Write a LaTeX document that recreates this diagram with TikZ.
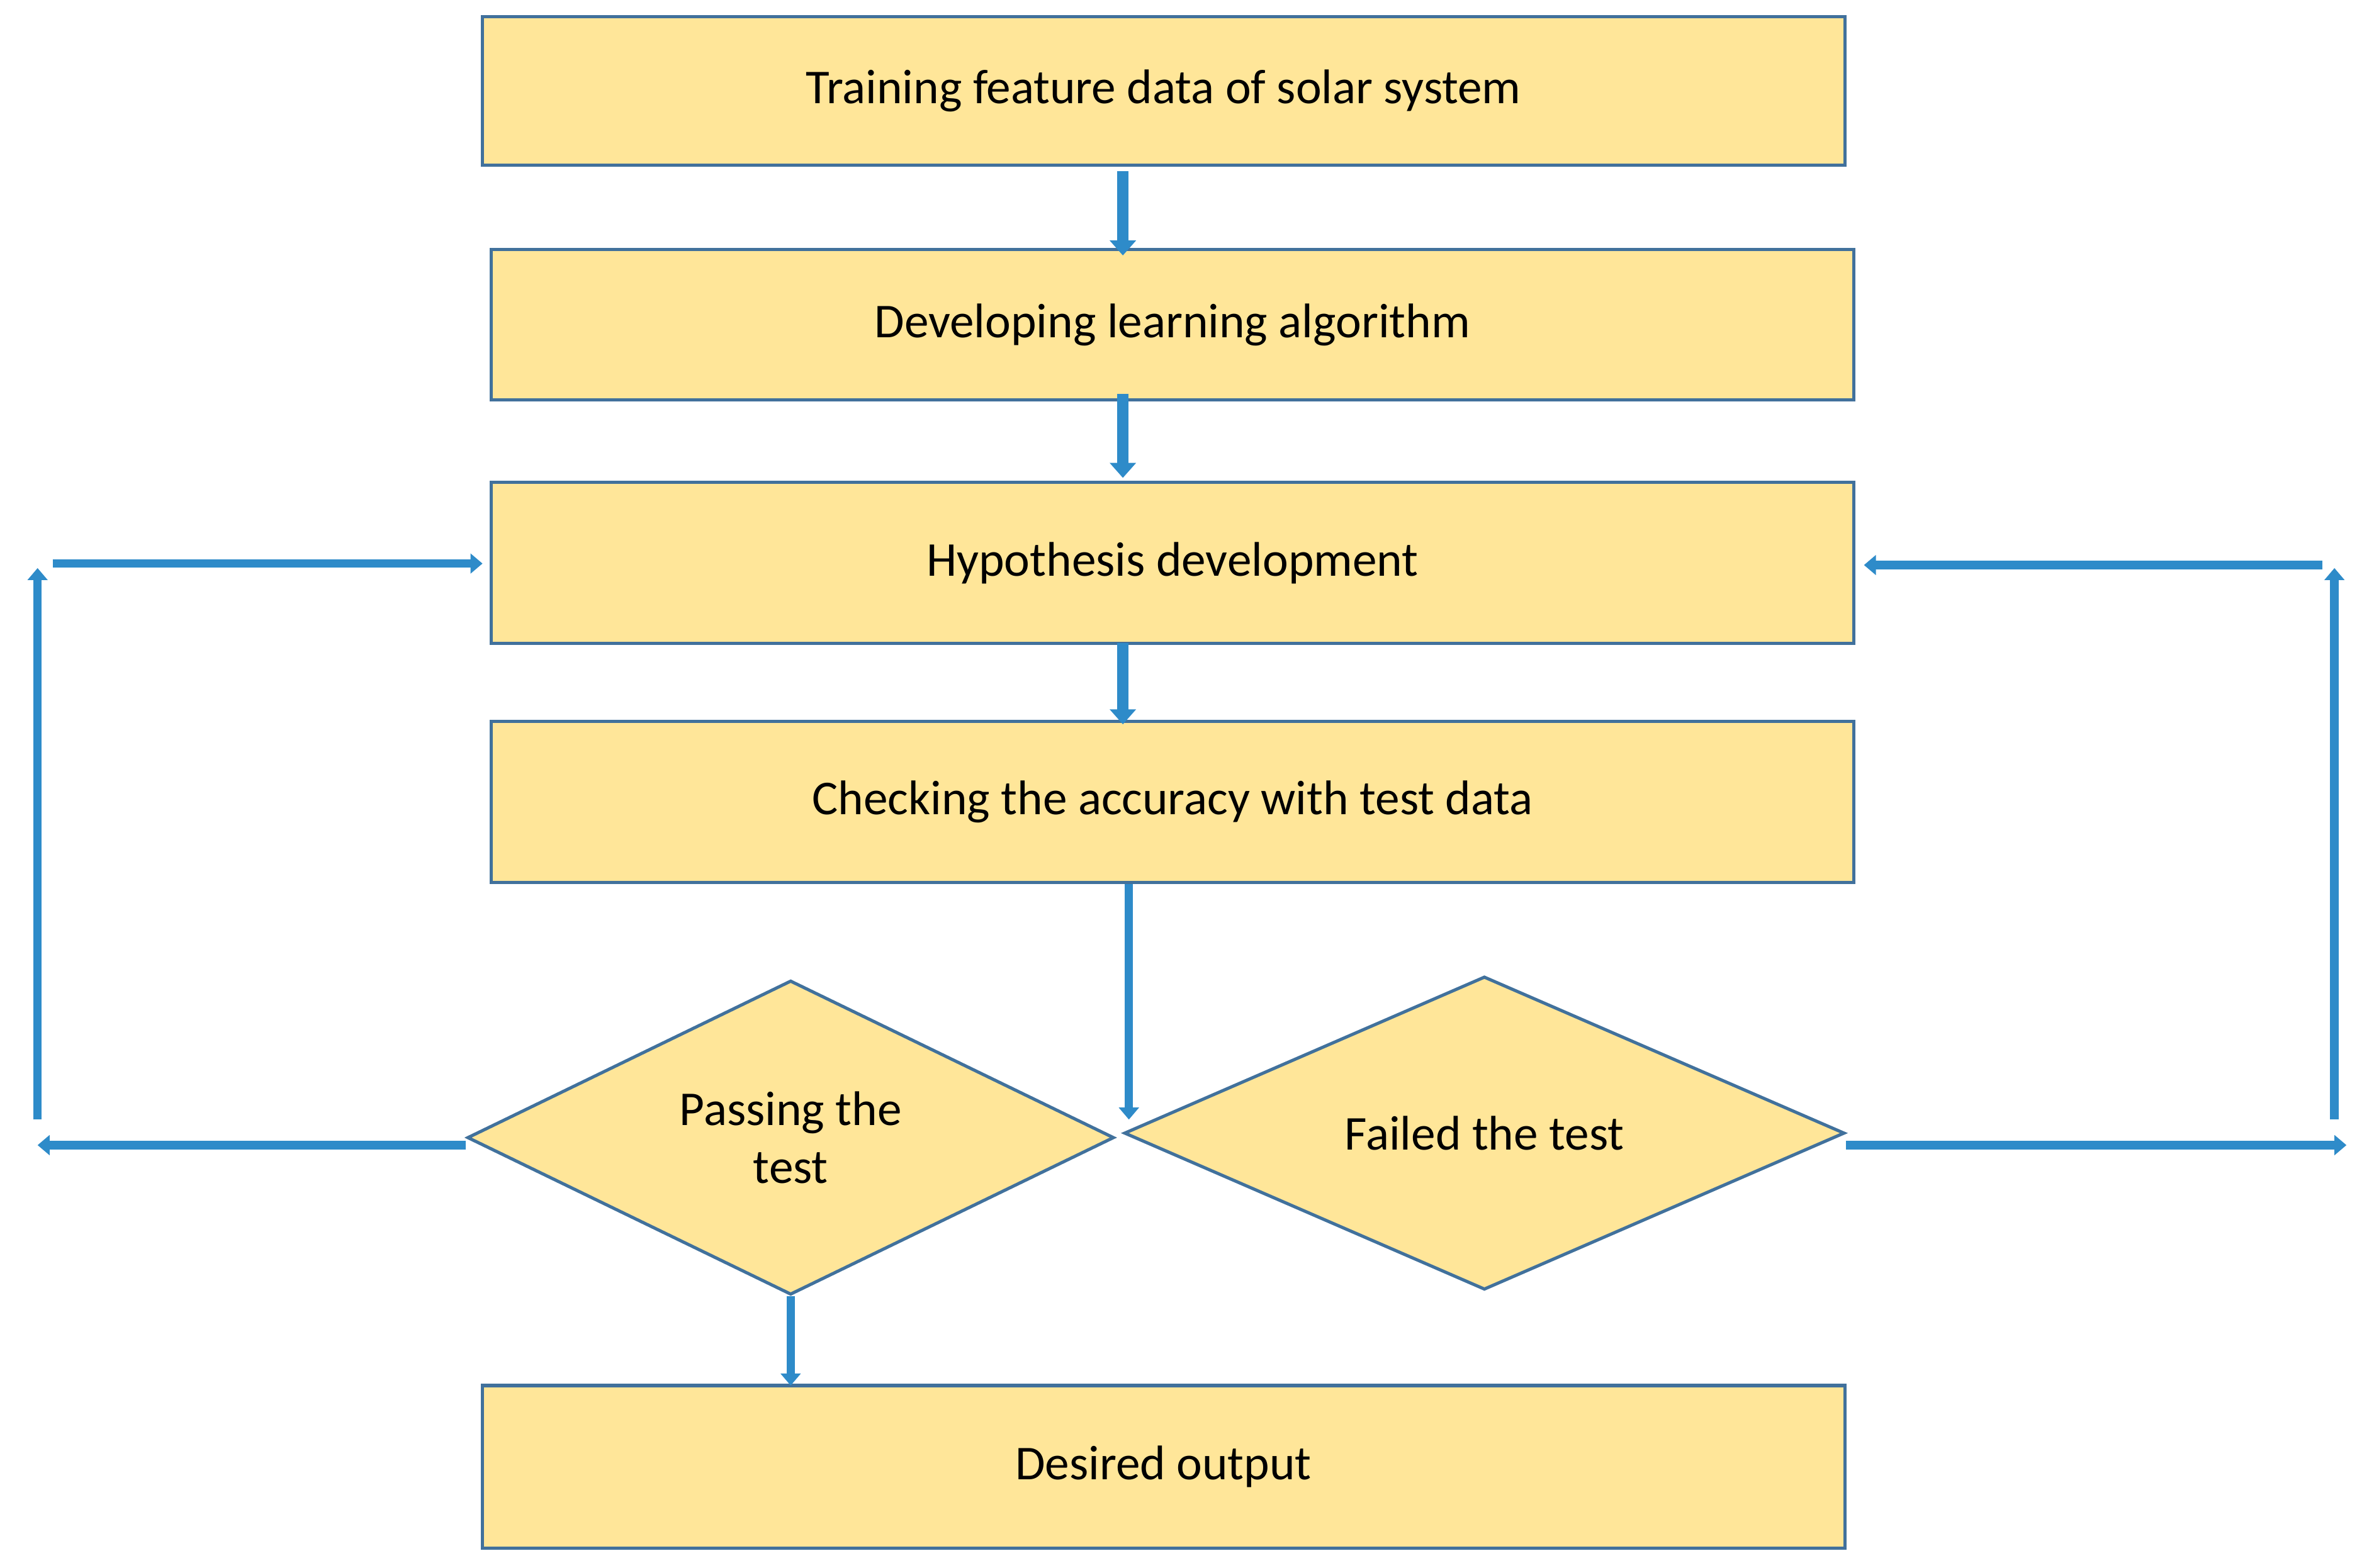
\documentclass[tikz,border=0pt]{standalone}
\usepackage{fontspec}
\setmainfont{Carlito}
\usetikzlibrary{arrows.meta,shapes.geometric}
\definecolor{boxfill}{HTML}{FFE699}
\definecolor{boxline}{HTML}{41719C}
\definecolor{arr}{HTML}{2E8BC9}
\begin{document}
\begin{tikzpicture}[x=0.01cm,y=-0.01cm,
  box/.style={draw=boxline,fill=boxfill,line width=0.6pt,minimum width=9.06cm,inner sep=0pt,font=\fontsize{9.2}{11}\selectfont},
  dia/.style={draw=boxline,fill=boxfill,line width=0.6pt,diamond,inner sep=0pt,font=\fontsize{9.2}{11}\selectfont,align=center},
  fat/.style={draw=arr,line width=2.2pt,-{Triangle[length=0.1cm,width=0.17cm]}},
  thin/.style={draw=arr,line width=1.6pt,-{Triangle[length=0.08cm,width=0.13cm]}}]
\useasboundingbox (0,0) rectangle (1568,1043);
\node[box,minimum height=0.99cm] (b1) at (774,60.5) {Training feature data of solar system};
\node[box,minimum height=1.00cm] (b2) at (780,216) {Developing learning algorithm};
\node[box,minimum height=1.07cm] (b3) at (780,374.5) {Hypothesis development};
\node[box,minimum height=1.07cm] (b4) at (780,533.5) {Checking the accuracy with test data};
\node[box,minimum height=1.08cm] (b5) at (774,976) {Desired output};
\node[dia,minimum width=4.30cm,minimum height=1.66cm] (d1) at (526,757) {Passing the\\test};
\node[dia,minimum width=4.79cm,minimum height=1.73cm] (d2) at (987.5,754) {Failed the test};
\coordinate (a1s) at (747,114); \coordinate (a1e) at (747,170);
\coordinate (a2s) at (747,262); \coordinate (a2e) at (747,318);
\coordinate (a3s) at (747,428); \coordinate (a3e) at (747,482);
\coordinate (a4e) at (751,745);
\coordinate (a5e) at (526,922);
\draw[fat] (a1s) -- (a1e);
\draw[fat] (a2s) -- (a2e);
\draw[fat] (a3s) -- (a3e);
\draw[thin] (b4.south -| a4e) -- (a4e);
\draw[thin] (d1.south) -- (a5e);
\coordinate (l1) at (25,762); \coordinate (l2) at (25,745); \coordinate (l3) at (25,378);
\coordinate (l4) at (35,375); \coordinate (l5) at (321,375);
\draw[thin] (d1.west |- l1) -- (l1);
\draw[thin] (l2) -- (l3);
\draw[thin] (l4) -- (l5);
\coordinate (r1) at (1561,762); \coordinate (r2) at (1553,745); \coordinate (r3) at (1553,378);
\coordinate (r4) at (1545,376); \coordinate (r5) at (1240,376);
\draw[thin] (d2.east |- r1) -- (r1);
\draw[thin] (r2) -- (r3);
\draw[thin] (r4) -- (r5);
\end{tikzpicture}
\end{document}
